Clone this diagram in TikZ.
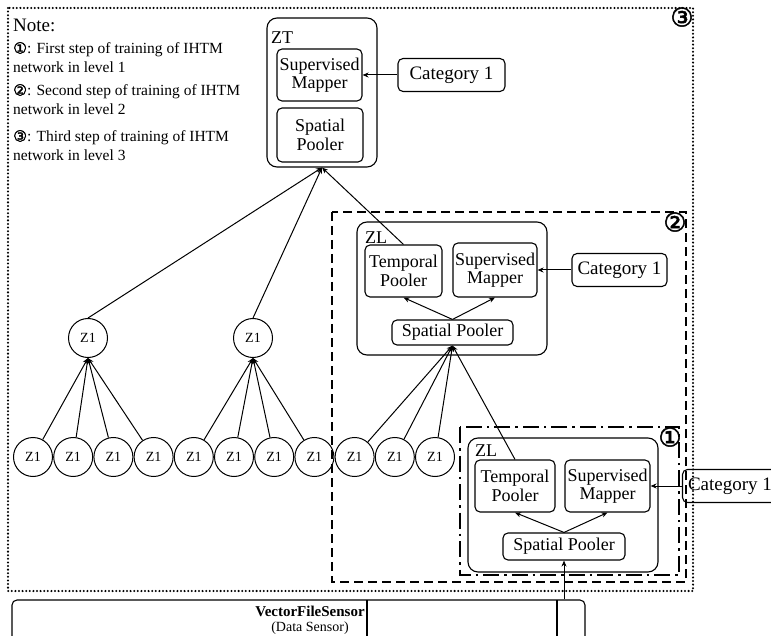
\documentclass[tikz,border=0pt]{standalone}
\usepackage{fontspec}
\setmainfont{Liberation Serif}
\newfontfamily\circfont[FakeBold=2]{DejaVu Sans}
\usetikzlibrary{arrows.meta}

\begin{document}
\begin{tikzpicture}[x=1pt, y=-1pt,
  unit/.style={draw, rounded corners=5pt, line width=1.1pt, align=center, inner sep=0pt, font=\fontsize{18}{18.5}\selectfont},
  catbox/.style={unit, minimum width=95pt, minimum height=33pt, font=\fontsize{19}{19}\selectfont},
  region/.style={draw, rounded corners=10pt, line width=1.1pt},
  lvlname/.style={anchor=west, inner sep=0pt, font=\fontsize{18}{18}\selectfont},
  cell/.style={draw, circle, minimum size=39pt, inner sep=0pt, line width=1pt, font=\fontsize{14}{14}\selectfont},
  remark/.style={anchor=north west, align=left, inner sep=0pt, font=\fontsize{15.5}{18.5}\selectfont},
  tagnum/.style={inner sep=0pt, font=\circfont\fontsize{26}{26}\selectfont},
  lvlone/.style={line width=2.4pt, dash pattern=on 16pt off 5pt on 2.5pt off 5pt},
  lvltwo/.style={line width=2.4pt, dash pattern=on 9pt off 5pt},
  lvlthree/.style={line width=2.3pt, line cap=round, dash pattern=on 0pt off 3.6pt},
  flow/.style={-{Stealth[length=6pt, width=5pt]}, line width=1pt}]
\useasboundingbox (0,0) rectangle (771,636);
\draw[lvlthree] (8,8) rectangle (693,591);
\draw[lvltwo] (332,212) rectangle (686,582);
\draw[lvlone] (460,427) rectangle (679,575);
\node[tagnum] (tag3) at (682,17) {③};
\node[tagnum] (tag2) at (675,222) {②};
\node[tagnum] (tag1) at (670,437) {①};
\node[anchor=west, inner sep=0pt, font=\fontsize{19}{19}\selectfont] (notehead) at (13,25) {Note:};
\node[remark] (note1) at (13,42) {{\circfont ①}: First step of training of IHTM\\network in level 1};
\node[remark] (note2) at (13,84) {{\circfont ②}: Second step of training of IHTM\\network in level 2};
\node[remark] (note3) at (13,130) {{\circfont ③}: Third step of training of IHTM\\network in level 3};
\node[region, minimum width=110pt, minimum height=149pt] (zt) at (322,92.5) {};
\node[lvlname] (ztname) at (271,38) {ZT};
\node[unit, minimum width=85pt, minimum height=52pt] (smt) at (319.5,75) {Supervised\\Mapper};
\node[unit, minimum width=86pt, minimum height=54pt] (spt) at (320,135) {Spatial\\Pooler};
\node[catbox, minimum width=107pt] (catt) at (451.5,75) {Category 1};
\node[region, minimum width=190pt, minimum height=133pt] (zl2) at (452,288.5) {};
\node[lvlname] (zl2name) at (365,238) {ZL};
\node[unit, minimum width=77pt, minimum height=52pt] (tp2) at (403.5,271) {Temporal\\Pooler};
\node[unit, minimum width=84pt, minimum height=54pt] (sm2) at (495,270) {Supervised\\Mapper};
\node[unit, minimum width=121pt, minimum height=25pt] (sp2) at (452.5,332.5) {Spatial Pooler};
\node[catbox] (cat2) at (619.5,270) {Category 1};
\node[region, minimum width=190pt, minimum height=134pt] (zl1) at (563,505) {};
\node[lvlname] (zl1name) at (475,451) {ZL};
\node[unit, minimum width=80pt, minimum height=52pt] (tp1) at (515,486) {Temporal\\Pooler};
\node[unit, minimum width=85pt, minimum height=52pt] (sm1) at (607.5,486) {Supervised\\Mapper};
\node[unit, minimum width=122pt, minimum height=27pt] (sp1) at (564,546.5) {Spatial Pooler};
\node[catbox] (cat1) at (730,486) {Category 1};
\node[cell] (u1) at (88,338) {Z1};
\node[cell] (u2) at (253,338) {Z1};
\foreach \i in {1,...,11} \node[cell] (c\i) at ({33+40.2*(\i-1)},457) {Z1};
\node[draw, rounded corners=5pt, line width=1.1pt, minimum width=573pt, minimum height=80pt] (sensor) at (298.5,640) {};
\draw[line width=1.1pt] (367,600) -- (367,680) (557,600) -- (557,680);
\node[align=center, inner sep=0pt, font=\fontsize{14}{15}\selectfont] (sensorname) at (310,620) {{\fontsize{15}{15}\selectfont\bfseries VectorFileSensor}\\(Data Sensor)};
\foreach \i in {1,...,4} \draw[flow] (c\i) -- (u1.south);
\foreach \i in {5,...,8} \draw[flow] (c\i) -- (u2.south);
\foreach \i in {9,10,11} \draw[flow] (c\i) -- (sp2.south);
\draw[flow] (tp1.north) -- (sp2.south);
\draw[flow] (u1.north) -- (zt.south); \draw[flow] (u2.north) -- (zt.south); \draw[flow] (tp2.north) -- (zt.south);
\draw[flow] (catt) -- (smt); \draw[flow] (cat2) -- (sm2); \draw[flow] (cat1) -- (sm1);
\draw[flow] (sp2.north) -- (tp2.south); \draw[flow] (sp2.north) -- (sm2.south);
\draw[flow] (sp1.north) -- (tp1.south); \draw[flow] (sp1.north) -- (sm1.south);
\draw[flow] (sp1.south |- sensor.north) -- (sp1.south);
\end{tikzpicture}
\end{document}
